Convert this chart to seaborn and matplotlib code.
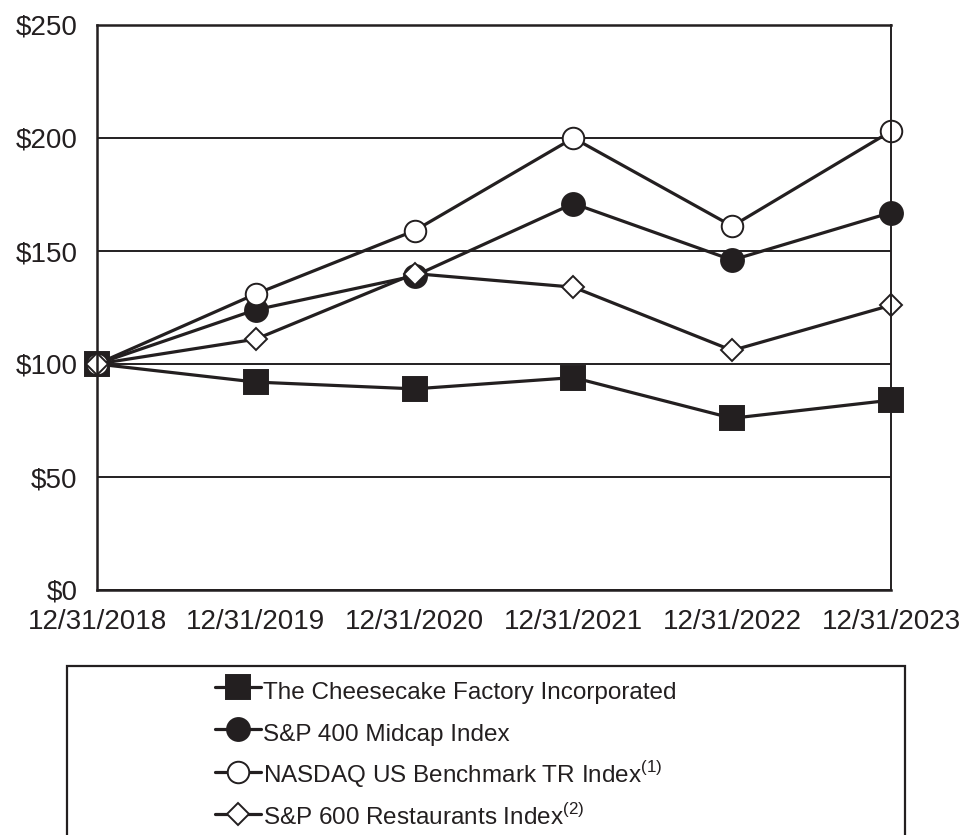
import matplotlib
matplotlib.use("Agg")
import matplotlib.pyplot as plt
from matplotlib.patches import Rectangle
import seaborn as sns
import pandas as pd

DATES = ["12/31/2018", "12/31/2019", "12/31/2020", "12/31/2021", "12/31/2022", "12/31/2023"]
CHEESECAKE = [100, 92, 89, 94, 76, 84]
SP400 = [100, 124, 139, 171, 146, 167]
NASDAQ = [100, 131, 159, 200, 161, 203]
SP600_REST = [100, 111, 140, 134, 106, 126]
Y_TICKS = [0, 50, 100, 150, 200, 250]

INK = "#231f20"

sns.set_style("white")
plt.rcParams["font.family"] = ["Liberation Sans", "DejaVu Sans"]
plt.rcParams["mathtext.fontset"] = "custom"
plt.rcParams["mathtext.rm"] = "Liberation Sans"

series = [
    ("The Cheesecake Factory Incorporated", CHEESECAKE, "s", INK, 17.5),
    ("S&P 400 Midcap Index", SP400, "o", INK, 16.5),
    (r"NASDAQ US Benchmark TR Index$^{\mathrm{(1)}}$", NASDAQ, "o", "white", 15.5),
    (r"S&P 600 Restaurants Index$^{\mathrm{(2)}}$", SP600_REST, "D", "white", 11.2),
]

fig = plt.figure(figsize=(9.62, 8.35), dpi=100)
ax = fig.add_axes([97 / 962, 1 - 590 / 835, (891 - 97) / 962, (590 - 25) / 835])

x = list(range(len(DATES)))
for label, vals, marker, face, ms in series:
    df = pd.DataFrame({"x": x, "y": vals})
    sns.lineplot(data=df, x="x", y="y", ax=ax, label=label, color=INK,
                 linewidth=2.3, marker=marker, markersize=ms,
                 markerfacecolor=face, markeredgecolor=INK, markeredgewidth=1.4,
                 clip_on=False, legend=False)

ax.set_xlim(0, len(DATES) - 1)
ax.set_ylim(0, 250)
ax.set_xticks(x)
ax.set_xticklabels(DATES)
ax.set_yticks(Y_TICKS)
ax.set_yticklabels([f"${v}" for v in Y_TICKS])
ax.set_xlabel("")
ax.set_ylabel("")
ax.yaxis.grid(True, color=INK, linewidth=1.4)
ax.set_axisbelow(True)
for side in ["left", "bottom", "right", "top"]:
    ax.spines[side].set_visible(True)
    ax.spines[side].set_color(INK)
    ax.spines[side].set_linewidth(1.8)
ax.spines["right"].set_linewidth(1.4)
ax.tick_params(axis="both", colors=INK, labelsize=20, direction="out",
               length=7, width=1.5)
ax.tick_params(axis="y", length=9, pad=5)
ax.tick_params(axis="x", pad=7)

# legend box, open at the bottom edge of the picture
fig.patches.append(Rectangle((67 / 962, -0.1), (905 - 67) / 962, 0.1 + (835 - 666) / 835,
                             transform=fig.transFigure, fill=False,
                             edgecolor=INK, linewidth=1.6, clip_on=False))

handles, labels = ax.get_legend_handles_labels()
fig.legend(handles, labels, loc="upper left",
           bbox_to_anchor=(193 / 962, 1 - 654 / 835), frameon=False,
           fontsize=17.5, handlelength=1.9, handletextpad=0.08,
           handleheight=1.5, labelspacing=0.5, labelcolor=INK)

fig.savefig("out.png", dpi=100)
